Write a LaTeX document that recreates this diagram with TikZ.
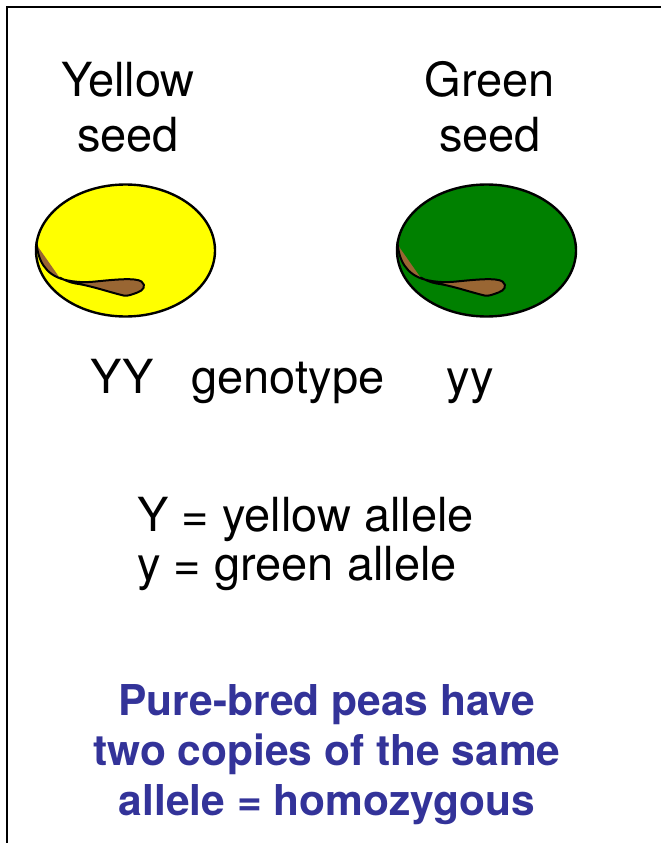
\documentclass[tikz,border=0pt]{standalone}
\usepackage{fontspec}
\setmainfont{TeX Gyre Heros}
\usepackage{tikz}
\usetikzlibrary{positioning,shapes.geometric}
\definecolor{PeaYellow}{HTML}{FFFF00}
\definecolor{PeaGreen}{HTML}{008000}
\definecolor{HilumBrown}{HTML}{996633}
\definecolor{NoteBlue}{HTML}{333399}

\begin{document}
\begin{tikzpicture}[
  x=1pt, y=-1pt,
  txt/.style={font=\fontsize{47}{55}\selectfont, inner sep=0pt, align=center},
  bluenote/.style={font=\fontsize{42.5}{50}\selectfont\bfseries, text=NoteBlue, inner sep=0pt, align=center},
  pea/.style={draw=black, line width=2.4pt, ellipse, minimum width=179pt, minimum height=132pt, inner sep=0pt},
  hilum/.pic={
    \fill[HilumBrown] (-89,-9) .. controls (-88,10) and (-80,24) .. (-62,29)
      .. controls (-50,32) and (-40,32) .. (-30,31)
      .. controls (-10,29) and (10,27) .. (16,31)
      .. controls (21,35) and (18,40) .. (12,42)
      .. controls (6,44) and (2,46) .. (-2,45)
      .. controls (-15,42) and (-35,35) .. (-50,33)
      .. controls (-56,32) and (-62,29) .. (-66,27) -- (-87,-3) -- cycle;
    \draw[line width=2pt, line join=round] (-89,-9) .. controls (-88,10) and (-80,24) .. (-62,29)
      .. controls (-50,32) and (-40,32) .. (-30,31)
      .. controls (-10,29) and (10,27) .. (16,31)
      .. controls (21,35) and (18,40) .. (12,42)
      .. controls (6,44) and (2,46) .. (-2,45)
      .. controls (-15,42) and (-35,35) .. (-50,33)
      .. controls (-56,32) and (-62,29) .. (-66,27);
  }
]
  \useasboundingbox (0,0) rectangle (661,843);
  % open frame, only left and top edges show
  \draw[line width=2.4pt] (7,850) -- (7,7) -- (670,7);

  % base anchor sits on the last line
  \node[txt, anchor=base] (ytitle) at (128,151) {Yellow\\seed};
  \node[txt, anchor=base] (gtitle) at (490,151) {Green\\seed};

  \node[pea, fill=PeaYellow] (yellowpea) at (125.5,250.5) {};
  \node[pea, fill=PeaGreen] (greenpea) at (486.5,250.5) {};
  \pic at (yellowpea.center) {hilum};
  \pic at (greenpea.center) {hilum};

  \node[txt, anchor=base] (yygeno) at (122,393) {YY};
  \node[txt, anchor=base] (geno) at (288,393) {genotype};
  \node[txt, anchor=base] (smallgeno) at (470,393) {yy};

  \node[txt, font=\fontsize{47}{49}\selectfont, align=left, anchor=base west] (key) at (137,580) {Y = yellow allele\\y = green allele};

  \node[bluenote, anchor=base] (pure) at (327,815) {Pure-bred peas have\\two copies of the same\\allele = homozygous};
\end{tikzpicture}
\end{document}
